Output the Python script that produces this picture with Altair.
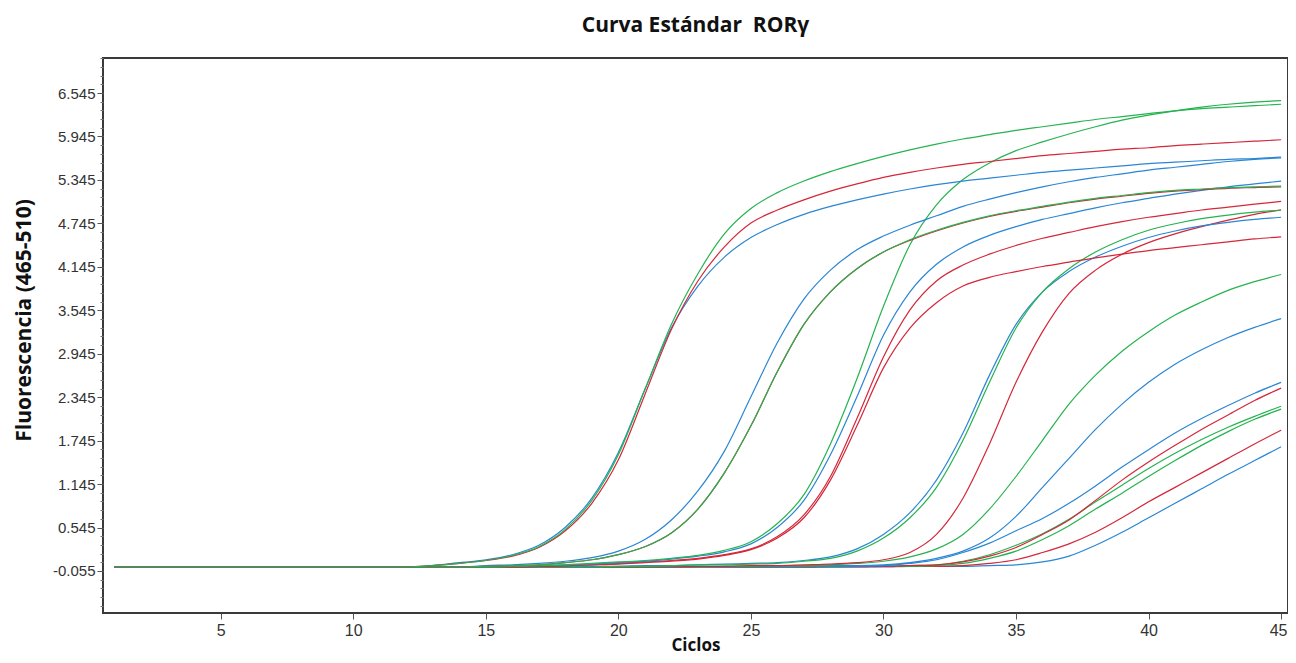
import altair as alt
import pandas as pd

cycles = [1, 4, 8, 12] + list(range(14, 46))

# Fluorescence readings (465-510) for each curve, one value per cycle above
a_green = [0.0, 0.0, 0.0, 0.0, 0.05, 0.09, 0.16, 0.28, 0.52, 0.92, 1.55, 2.45, 3.35, 4.05, 4.6, 4.95, 5.17, 5.33, 5.46, 5.57, 5.67, 5.76, 5.84, 5.91, 5.97, 6.03, 6.08, 6.13, 6.18, 6.22, 6.26, 6.3, 6.33, 6.35, 6.37, 6.39]
a_red = [0.0, 0.0, 0.0, 0.0, 0.05, 0.09, 0.15, 0.27, 0.5, 0.88, 1.48, 2.38, 3.28, 3.95, 4.42, 4.75, 4.93, 5.07, 5.19, 5.29, 5.38, 5.45, 5.51, 5.56, 5.6, 5.64, 5.68, 5.71, 5.74, 5.77, 5.79, 5.82, 5.84, 5.86, 5.88, 5.9]
a_blue = [0.0, 0.0, 0.0, 0.0, 0.06, 0.1, 0.17, 0.3, 0.55, 0.95, 1.58, 2.45, 3.3, 3.88, 4.28, 4.55, 4.73, 4.87, 4.98, 5.07, 5.15, 5.22, 5.28, 5.33, 5.37, 5.41, 5.45, 5.48, 5.51, 5.54, 5.57, 5.59, 5.61, 5.63, 5.64, 5.66]
b_blue = [0.0, 0.0, 0.0, 0.0, 0.0, 0.02, 0.03, 0.05, 0.08, 0.13, 0.22, 0.38, 0.65, 1.05, 1.6, 2.35, 3.1, 3.7, 4.1, 4.38, 4.57, 4.72, 4.85, 4.98, 5.08, 5.17, 5.25, 5.32, 5.38, 5.43, 5.48, 5.52, 5.56, 5.6, 5.63, 5.65]
b_green = [0.0, 0.0, 0.0, 0.0, 0.0, 0.01, 0.02, 0.03, 0.06, 0.1, 0.17, 0.28, 0.47, 0.8, 1.3, 1.95, 2.7, 3.35, 3.8, 4.12, 4.35, 4.52, 4.65, 4.76, 4.85, 4.92, 4.98, 5.04, 5.09, 5.13, 5.17, 5.2, 5.22, 5.24, 5.25, 5.26]
b_red = [0.0, 0.0, 0.0, 0.0, 0.0, 0.01, 0.02, 0.03, 0.06, 0.1, 0.17, 0.28, 0.47, 0.8, 1.3, 1.95, 2.7, 3.35, 3.8, 4.12, 4.35, 4.51, 4.64, 4.75, 4.84, 4.91, 4.97, 5.03, 5.08, 5.12, 5.16, 5.19, 5.21, 5.23, 5.24, 5.25]
c_green = [0.0, 0.0, 0.0, 0.0, 0.0, 0.0, 0.01, 0.02, 0.03, 0.05, 0.07, 0.09, 0.12, 0.16, 0.23, 0.35, 0.6, 1.0, 1.7, 2.6, 3.6, 4.45, 5.0, 5.35, 5.58, 5.75, 5.87, 5.98, 6.08, 6.17, 6.24, 6.3, 6.35, 6.39, 6.42, 6.44]
c_blue = [0.0, 0.0, 0.0, 0.0, 0.0, 0.0, 0.01, 0.02, 0.03, 0.04, 0.06, 0.08, 0.11, 0.15, 0.21, 0.32, 0.55, 0.92, 1.55, 2.35, 3.2, 3.8, 4.18, 4.42, 4.58, 4.7, 4.8, 4.88, 4.96, 5.03, 5.09, 5.15, 5.2, 5.25, 5.29, 5.33]
c_red = [0.0, 0.0, 0.0, 0.0, 0.0, 0.0, 0.0, 0.01, 0.02, 0.03, 0.05, 0.07, 0.09, 0.12, 0.17, 0.25, 0.42, 0.72, 1.25, 2.05, 2.9, 3.55, 3.95, 4.17, 4.32, 4.44, 4.54, 4.62, 4.7, 4.77, 4.83, 4.88, 4.93, 4.97, 5.01, 5.05]
c_red2 = [0.0, 0.0, 0.0, 0.0, 0.0, 0.0, 0.0, 0.01, 0.02, 0.03, 0.04, 0.06, 0.08, 0.11, 0.16, 0.24, 0.4, 0.68, 1.2, 1.95, 2.75, 3.3, 3.65, 3.88, 4.0, 4.08, 4.15, 4.21, 4.27, 4.32, 4.37, 4.41, 4.45, 4.49, 4.53, 4.56]
d_blue = [0.0, 0.0, 0.0, 0.0, 0.0, 0.0, 0.0, 0.0, 0.0, 0.01, 0.01, 0.02, 0.02, 0.03, 0.04, 0.05, 0.06, 0.09, 0.14, 0.25, 0.45, 0.75, 1.2, 1.85, 2.65, 3.35, 3.8, 4.08, 4.28, 4.43, 4.55, 4.64, 4.71, 4.76, 4.8, 4.83]
d_green = [0.0, 0.0, 0.0, 0.0, 0.0, 0.0, 0.0, 0.0, 0.0, 0.0, 0.01, 0.01, 0.02, 0.03, 0.03, 0.04, 0.05, 0.08, 0.12, 0.22, 0.4, 0.68, 1.1, 1.75, 2.55, 3.3, 3.8, 4.12, 4.35, 4.52, 4.65, 4.74, 4.81, 4.86, 4.9, 4.93]
d_red = [0.0, 0.0, 0.0, 0.0, 0.0, 0.0, 0.0, 0.0, 0.0, 0.0, 0.0, 0.0, 0.0, 0.01, 0.01, 0.02, 0.02, 0.03, 0.04, 0.06, 0.1, 0.2, 0.45, 0.95, 1.7, 2.55, 3.25, 3.78, 4.1, 4.32, 4.48, 4.6, 4.7, 4.79, 4.87, 4.93]
e_green = [0.0, 0.0, 0.0, 0.0, 0.0, 0.0, 0.0, 0.0, 0.0, 0.0, 0.0, 0.0, 0.0, 0.0, 0.01, 0.01, 0.02, 0.02, 0.03, 0.05, 0.08, 0.14, 0.25, 0.45, 0.8, 1.25, 1.75, 2.25, 2.65, 2.98, 3.25, 3.48, 3.66, 3.82, 3.94, 4.04]
e_blue = [0.0, 0.0, 0.0, 0.0, 0.0, 0.0, 0.0, 0.0, 0.0, 0.0, 0.0, 0.0, 0.0, 0.0, 0.0, 0.01, 0.01, 0.01, 0.02, 0.02, 0.03, 0.06, 0.12, 0.22, 0.4, 0.7, 1.1, 1.5, 1.9, 2.25, 2.55, 2.8, 3.0, 3.17, 3.31, 3.43]
f_blue1 = [0.0, 0.0, 0.0, 0.0, 0.0, 0.0, 0.0, 0.0, 0.0, 0.0, 0.0, 0.0, 0.0, 0.0, 0.0, 0.0, 0.0, 0.01, 0.01, 0.01, 0.02, 0.05, 0.1, 0.2, 0.33, 0.5, 0.67, 0.88, 1.12, 1.38, 1.62, 1.85, 2.05, 2.23, 2.4, 2.55]
f_red1 = [0.0, 0.0, 0.0, 0.0, 0.0, 0.0, 0.0, 0.0, 0.0, 0.0, 0.0, 0.0, 0.0, 0.0, 0.0, 0.0, 0.0, 0.0, 0.01, 0.01, 0.01, 0.02, 0.03, 0.07, 0.15, 0.27, 0.45, 0.65, 0.92, 1.2, 1.45, 1.68, 1.9, 2.1, 2.3, 2.47]
f_green1 = [0.0, 0.0, 0.0, 0.0, 0.0, 0.0, 0.0, 0.0, 0.0, 0.0, 0.0, 0.0, 0.0, 0.0, 0.0, 0.0, 0.0, 0.0, 0.01, 0.01, 0.01, 0.02, 0.03, 0.08, 0.17, 0.3, 0.46, 0.66, 0.9, 1.13, 1.36, 1.57, 1.76, 1.93, 2.08, 2.22]
f_green2 = [0.0, 0.0, 0.0, 0.0, 0.0, 0.0, 0.0, 0.0, 0.0, 0.0, 0.0, 0.0, 0.0, 0.0, 0.0, 0.0, 0.0, 0.0, 0.0, 0.01, 0.01, 0.01, 0.02, 0.05, 0.12, 0.22, 0.38, 0.57, 0.8, 1.02, 1.25, 1.47, 1.68, 1.87, 2.04, 2.18]
f_red2 = [0.0, 0.0, 0.0, 0.0, 0.0, 0.0, 0.0, 0.0, 0.0, 0.0, 0.0, 0.0, 0.0, 0.0, 0.0, 0.0, 0.0, 0.0, 0.0, 0.0, 0.01, 0.01, 0.01, 0.02, 0.05, 0.1, 0.2, 0.32, 0.48, 0.68, 0.9, 1.1, 1.3, 1.5, 1.7, 1.89]
f_blue2 = [0.0, 0.0, 0.0, 0.0, 0.0, 0.0, 0.0, 0.0, 0.0, 0.0, 0.0, 0.0, 0.0, 0.0, 0.0, 0.0, 0.0, 0.0, 0.0, 0.0, 0.0, 0.01, 0.01, 0.01, 0.02, 0.03, 0.07, 0.15, 0.3, 0.48, 0.68, 0.88, 1.08, 1.28, 1.47, 1.66]

curves = [
    ("F azul 2", "azul", f_blue2), ("F rojo 2", "rojo", f_red2), ("F verde 2", "verde", f_green2),
    ("F verde 1", "verde", f_green1), ("F rojo 1", "rojo", f_red1), ("F azul 1", "azul", f_blue1),
    ("E azul", "azul", e_blue), ("E verde", "verde", e_green),
    ("D rojo", "rojo", d_red), ("D azul", "azul", d_blue), ("D verde", "verde", d_green),
    ("C rojo 2", "rojo", c_red2), ("C rojo", "rojo", c_red), ("C azul", "azul", c_blue),
    ("C verde", "verde", c_green),
    ("B azul", "azul", b_blue), ("B rojo", "rojo", b_red), ("B verde", "verde", b_green),
    ("A azul", "azul", a_blue), ("A rojo", "rojo", a_red), ("A verde", "verde", a_green),
]

dyes = ["verde", "rojo", "azul"]
dye_colors = ["#25b34f", "#d4283a", "#2a86d4"]

x_ticks = [5, 10, 15, 20, 25, 30, 35, 40, 45]
y_ticks = [-0.055, 0.545, 1.145, 1.745, 2.345, 2.945, 3.545, 4.145, 4.745, 5.345, 5.945, 6.545]
y_minor = [round(-0.535 + 0.12 * k, 3) for k in range(64)]

rows = []
for order, (name, dye, values) in enumerate(curves):
    for c, v in zip(cycles, values):
        rows.append({"serie": name, "tinte": dye, "orden": order, "ciclo": c, "fluorescencia": v})
df = pd.DataFrame(rows)

x_scale = alt.Scale(domain=[0.56, 45.26], nice=False, zero=False)
y_scale = alt.Scale(domain=[-0.635, 7.029], nice=False, zero=False)

lines = alt.Chart(df).mark_line(strokeWidth=1.2, interpolate="monotone", clip=True).encode(
    x=alt.X("ciclo:Q", scale=x_scale, axis=alt.Axis(
        values=x_ticks, title="Ciclos", grid=False, domain=False,
        tickSize=6, tickColor="#555", labelFont="Liberation Sans", labelFontSize=16,
        labelColor="#333", labelPadding=3,
        labelOffset={"condition": {"test": "datum.value == 45", "value": -3}, "value": 0},
        titleFont="Open Sans", titleFontSize=17,
        titleFontWeight="bold", titleColor="#111", titleY=41, titleBaseline="bottom")),
    y=alt.Y("fluorescencia:Q", scale=y_scale, axis=alt.Axis(
        orient="left", values=y_ticks, title="Fluorescencia (465-510)", grid=False, domain=False,
        labelExpr="replace(format(datum.value, '.3f'), '\u2212', '-')",
        tickSize=6, tickColor="#555", labelFont="Liberation Sans", labelFontSize=15,
        labelColor="#333", labelPadding=2, titleFont="Open Sans", titleFontSize=21,
        titleFontWeight="bold", titleColor="#111", titleAngle=270,
        titleX=-79, titleY=262, titleBaseline="middle", titleAlign="center")),
    color=alt.Color("tinte:N", scale=alt.Scale(domain=dyes, range=dye_colors), legend=None),
    detail="serie:N",
    order=alt.Order("ciclo:Q"),
)

minor = alt.Chart(df).mark_point(opacity=0).encode(
    y=alt.Y("fluorescencia:Q", scale=y_scale, axis=alt.Axis(
        orient="left", values=y_minor, labels=False, title=None, grid=False,
        domain=False, tickSize=3, tickColor="#777")),
)

chart = alt.layer(minor, lines).resolve_axis(y="independent").properties(
    width=1185,
    height=555,
    title=alt.TitleParams("Curva Estándar\u00a0 RORγ", font="Open Sans", fontSize=21,
                          fontWeight="bold", color="#111", anchor="middle", offset=22),
    autosize=alt.AutoSizeParams(type="none"),
    padding={"left": 95, "top": 50, "right": 0, "bottom": 42},
).configure(
    background="white",
    view=alt.ViewConfig(stroke="#3a3a3a", strokeWidth=2, strokeOpacity=1),
)

chart.save("out.html", embed_options={"renderer": "svg", "actions": False})
